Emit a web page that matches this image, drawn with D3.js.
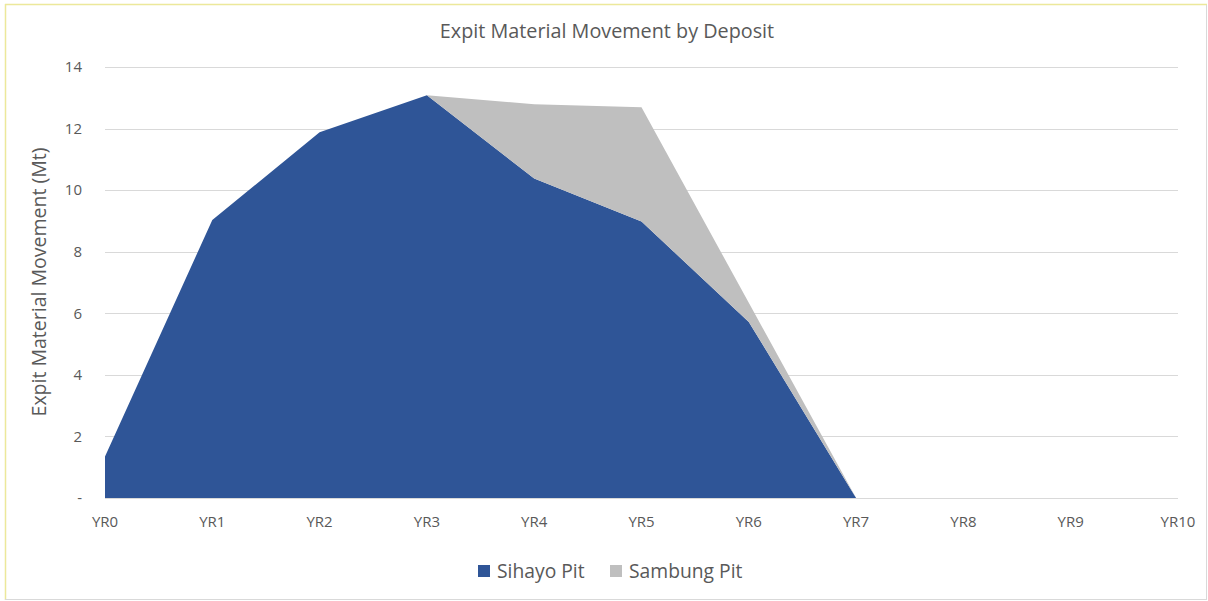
<!DOCTYPE html>
<html>
<head>
<meta charset="utf-8">
<script src="https://cdn.jsdelivr.net/npm/d3@7"></script>
<style>
  body { margin: 0; background: #fff; }
  text { font-family: "Open Sans", sans-serif; fill: #595959; }
</style>
</head>
<body>
<div id="chart"></div>
<script>
// Data
var years = ['YR0','YR1','YR2','YR3','YR4','YR5','YR6','YR7','YR8','YR9','YR10'];
var sihayo = [1.35, 9.03, 11.88, 13.08, 10.38, 8.98, 5.72, 0, 0, 0, 0];
var sambung = [0, 0, 0, 0, 2.41, 3.71, 0.62, 0, 0, 0, 0];
var yTicks = [0, 2, 4, 6, 8, 10, 12, 14];
var seriesNames = ['Sihayo Pit', 'Sambung Pit'];
var colors = ['#2f5597', '#bfbfbf'];

var W = 1208, H = 601;
var margin = {left: 105, top: 67, right: 30, bottom: 103};

var svg = d3.select('#chart').append('svg')
  .attr('width', W).attr('height', H);

// chart border
svg.append('line').attr('x1', 5).attr('x2', 1207).attr('y1', 4.5).attr('y2', 4.5)
  .style('stroke', '#ece89a').style('stroke-width', 1.5);
svg.append('line').attr('x1', 5.5).attr('x2', 5.5).attr('y1', 4).attr('y2', 600)
  .style('stroke', '#ece89a').style('stroke-width', 1.5);
svg.append('line').attr('x1', 5).attr('x2', 1207).attr('y1', 599.5).attr('y2', 599.5)
  .style('stroke', '#d9d9d9');
svg.append('line').attr('x1', 1206.5).attr('x2', 1206.5).attr('y1', 5).attr('y2', 600)
  .style('stroke', '#d9d9d9');

var x = d3.scalePoint().domain(years).range([margin.left, W - margin.right]);
var y = d3.scaleLinear().domain([0, 14]).range([H - margin.bottom, margin.top]);

// gridlines
svg.append('g').selectAll('line').data(yTicks).enter().append('line')
  .attr('x1', margin.left).attr('x2', W - margin.right)
  .attr('y1', function(d) { return Math.round(y(d)) + 0.5; })
  .attr('y2', function(d) { return Math.round(y(d)) + 0.5; })
  .style('stroke', '#d9d9d9');

// stacked areas
var table = years.map(function(yr, i) {
  return {year: yr, s0: sihayo[i], s1: sambung[i]};
});
var stack = d3.stack().keys(['s0', 's1']);
var layers = stack(table);
var area = d3.area()
  .x(function(d) { return x(d.data.year); })
  .y0(function(d) { return y(d[0]); })
  .y1(function(d) { return y(d[1]); });

svg.append('g').selectAll('path').data(layers).enter().append('path')
  .attr('d', area)
  .style('fill', function(d, i) { return colors[i]; });

// y axis labels
svg.append('g').selectAll('text').data(yTicks).enter().append('text')
  .attr('x', 82).attr('y', function(d) { return y(d); })
  .attr('dy', '0.35em')
  .attr('text-anchor', 'end')
  .style('font-size', '15px')
  .text(function(d) { return d === 0 ? '-' : d; });

// x axis labels
svg.append('g').selectAll('text').data(years).enter().append('text')
  .attr('x', function(d) { return x(d); }).attr('y', 527)
  .attr('text-anchor', 'middle')
  .style('font-size', '15px')
  .text(function(d) { return d; });

// title
svg.append('text').attr('x', 607).attr('y', 38)
  .attr('text-anchor', 'middle')
  .style('font-size', '19.8px')
  .text('Expit Material Movement by Deposit');

// y axis title
svg.append('text')
  .attr('transform', 'translate(46,' + 282 + ') rotate(-90)')
  .attr('text-anchor', 'middle')
  .style('font-size', '19.5px')
  .text('Expit Material Movement (Mt)');

// legend
var legendX = [478, 610];
var legend = svg.append('g').selectAll('g').data(seriesNames).enter().append('g')
  .attr('transform', function(d, i) { return 'translate(' + legendX[i] + ',565)'; });
legend.append('rect').attr('width', 12).attr('height', 12)
  .style('fill', function(d, i) { return colors[i]; });
legend.append('text').attr('x', 19).attr('y', 6).attr('dy', '0.35em')
  .style('font-size', '19.3px')
  .text(function(d) { return d; });
</script>
</body>
</html>
